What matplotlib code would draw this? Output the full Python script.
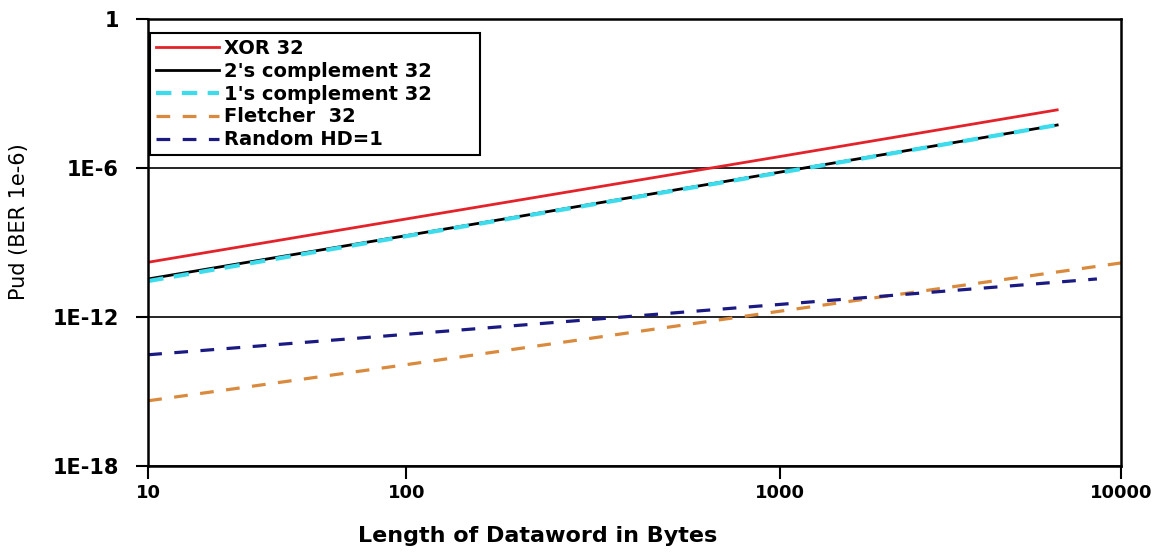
import numpy as np
import matplotlib
matplotlib.use("Agg")
import matplotlib.pyplot as plt
from matplotlib.ticker import FixedLocator, FixedFormatter

plt.rcParams['font.family'] = ['DejaVu Sans']

# data
length = [10, 100, 1000, 6500]
xor32 = [1.6e-10, 8.9e-9, 2.9e-6, 2.2e-4]
twos32 = [3.4e-11, 1.9e-9, 6.8e-7, 5.4e-5]
ones32 = [2.8e-11, 1.8e-9, 6.5e-7, 5.4e-5]
fletcher_len = [10, 100, 1000, 10000]
fletcher32 = [4.2e-16, 1.2e-14, 1.7e-12, 1.5e-10]
random_len = [10, 100, 1000, 8500]
random_hd1 = [3.0e-14, 2.0e-13, 3.2e-12, 3.4e-11]

x_ticks = [10, 100, 1000, 10000]
x_tick_labels = ["10", "100", "1000", "10000"]
y_ticks = [1e-18, 1e-12, 1e-6, 1]
y_tick_labels = ["1E-18", "1E-12", "1E-6", "1"]

# the original x axis is not evenly spaced per decade
decade_pos = [0, 258, 631, 972]


def fwd(x):
    x = np.clip(np.asarray(x, dtype=float), 1e-3, None)
    return np.interp(np.log10(x), [1, 2, 3, 4], decade_pos)


def inv(p):
    return 10 ** np.interp(p, decade_pos, [1, 2, 3, 4])


fig = plt.figure(figsize=(11.67, 5.52), dpi=100)
ax = fig.add_axes([0.127, 0.156, 0.8336, 0.8094])

ax.plot(length, xor32, color="#e3222a", lw=2, label="XOR 32")
ax.plot(length, twos32, color="black", lw=2, label="2's complement 32")
ax.plot(length, ones32, color="#3ddcec", lw=3, ls=(0, (3.7, 2.5)), label="1's complement 32")
ax.plot(fletcher_len, fletcher32, color="#d98a3d", lw=2.3, ls=(0, (4.3, 3.9)), label="Fletcher  32")
ax.plot(random_len, random_hd1, color="#1a1a82", lw=2.3, ls=(0, (4.3, 3.9)), label="Random HD=1")

ax.set_xscale("function", functions=(fwd, inv))
ax.set_yscale("log")
ax.set_xlim(10, 10000)
ax.set_ylim(1e-18, 1)

ax.xaxis.set_major_locator(FixedLocator(x_ticks))
ax.xaxis.set_major_formatter(FixedFormatter(x_tick_labels))
ax.xaxis.set_minor_locator(FixedLocator([]))
ax.yaxis.set_major_locator(FixedLocator(y_ticks))
ax.yaxis.set_major_formatter(FixedFormatter(y_tick_labels))
ax.yaxis.set_minor_locator(FixedLocator([]))

ax.grid(axis="y", color="black", lw=1.2)
for sp in ax.spines.values():
    sp.set_linewidth(1.8)
ax.tick_params(axis="both", direction="out", length=9, width=1.5)
ax.tick_params(axis="x", labelsize=13, pad=4)
ax.tick_params(axis="y", labelsize=15, pad=12)
for lab in ax.get_xticklabels() + ax.get_yticklabels():
    lab.set_fontweight("bold")

ax.set_xlabel("Length of Dataword in Bytes", fontsize=16, fontweight="bold")
ax.xaxis.set_label_coords(0.40, -0.135)
ax.set_ylabel("Pud (BER 1e-6)", fontsize=15)
ax.yaxis.set_label_coords(-0.123, 0.546)

leg = ax.legend(loc="upper left", bbox_to_anchor=(0.002, 0.66, 0.339, 0.309),
                mode="expand", borderaxespad=0,
                fancybox=False, framealpha=1, edgecolor="black",
                prop={"weight": "bold", "size": 14}, handlelength=3.25,
                handletextpad=0.25, labelspacing=0.2, borderpad=0.3)
leg.get_frame().set_linewidth(1.5)

fig.savefig("out.png", dpi=100)
